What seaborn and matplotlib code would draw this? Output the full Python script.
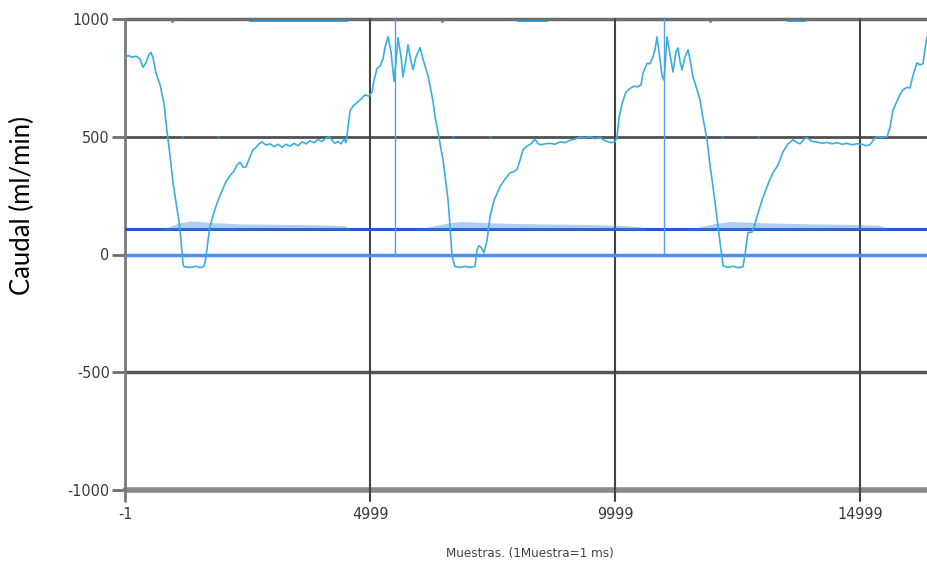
import numpy as np
import pandas as pd
import matplotlib
matplotlib.use("Agg")
import matplotlib.pyplot as plt
import seaborn as sns

# --- datos ---
muestras = [0, 61, 143, 224, 306, 367, 428, 490, 530, 571, 632, 714, 796, 857, 918, 979,
            1040, 1102, 1142, 1183, 1204, 1326, 1448, 1530, 1612, 1652, 1693, 1734, 1816,
            1897, 1979, 2060, 2142, 2224, 2285, 2346, 2407, 2468, 2550, 2611, 2672, 2734,
            2795, 2876, 2958, 3040, 3121, 3203, 3284, 3366, 3448, 3529, 3611, 3692, 3774,
            3856, 3937, 4019, 4100, 4162, 4223, 4284, 4345, 4406, 4468, 4508, 4549, 4590,
            4651, 4733, 4814, 4896, 4978, 5039, 5080, 5141, 5202, 5263, 5304, 5365, 5426,
            5488, 5528, 5569, 5630, 5671, 5732, 5773, 5834, 5875, 5936, 6018, 6079, 6120,
            6181, 6222, 6283, 6324, 6385, 6426, 6487, 6548, 6589, 6630, 6671, 6732, 6834,
            6936, 7038, 7140, 7181, 7222, 7262, 7324, 7385, 7446, 7528, 7650, 7752, 7854,
            7936, 7997, 8058, 8119, 8201, 8282, 8364, 8425, 8486, 8568, 8670, 8772, 8874,
            8976, 9078, 9180, 9282, 9384, 9486, 9588, 9690, 9772, 9833, 9914, 9996, 10037,
            10078, 10139, 10220, 10302, 10384, 10445, 10526, 10567, 10649, 10710, 10771,
            10812, 10853, 10894, 10955, 10996, 11057, 11118, 11179, 11240, 11281, 11322,
            11363, 11424, 11485, 11526, 11587, 11669, 11730, 11791, 11873, 11934, 11995,
            12056, 12097, 12158, 12199, 12301, 12403, 12505, 12607, 12648, 12709, 12791,
            12852, 12893, 12995, 13097, 13158, 13219, 13321, 13423, 13525, 13627, 13709,
            13770, 13852, 13913, 14015, 14117, 14219, 14321, 14423, 14525, 14627, 14729,
            14831, 14933, 15035, 15116, 15198, 15280, 15341, 15443, 15545, 15606, 15667,
            15749, 15810, 15871, 15953, 16014, 16075, 16157, 16218, 16279, 16320, 16361]
caudal = [835, 845, 838, 842, 830, 795, 815, 850, 858, 835, 770, 720, 640, 520, 420, 305,
          220, 140, 60, -40, -52, -55, -50, -56, -50, -10, 60, 120, 180,
          230, 270, 310, 335, 355, 380, 392, 370, 372, 415, 445, 455, 470,
          478, 465, 470, 458, 468, 455, 468, 460, 472, 462, 478, 470, 482,
          475, 488, 480, 495, 500, 485, 472, 480, 470, 490, 475, 540, 610,
          630, 645, 660, 678, 672, 690, 740, 790, 800, 830, 880, 925, 860,
          735, 820, 920, 840, 755, 830, 890, 820, 785, 840, 878, 830, 800,
          760, 715, 650, 585, 520, 470, 403, 300, 233, 120, -8, -51, -55,
          -50, -55, -50, 20, 38, 30, 8, 60, 160, 230, 288, 320, 347,
          352, 362, 400, 445, 460, 470, 490, 470, 466, 470, 472, 468, 478,
          475, 485, 490, 498, 495, 500, 492, 497, 485, 480, 475, 478, 500,
          580, 640, 690, 705, 715, 712, 720, 770, 812, 810, 840,
          870, 924, 860, 760, 740, 924, 850, 775, 860, 877, 820,
          784, 840, 869, 830, 754, 700, 657, 580, 487, 380, 288,
          190, 119, 20, -48, -55, -50, -56, -52, 0, 93, 95,
          130, 161, 230, 288, 320, 347, 380, 436, 470, 487, 475,
          470, 490, 496, 480, 478, 472, 476, 470, 475, 468, 472,
          466, 470, 468, 462, 466, 490, 500, 498, 500, 540, 614,
          650, 680, 699, 710, 707, 760, 814, 805, 810, 870, 924]

nivel_base = 108
banda_x = [[714, 918, 1122, 1326, 1530, 1836, 2346, 3162, 3978, 4488, 4590],
           [5916, 6222, 6528, 6834, 7140, 7650, 8466, 9282, 10098, 10506, 10608],
           [11424, 11730, 12036, 12342, 12648, 13158, 13974, 14790, 15402, 15565]]
banda_sup = [[106, 120, 135, 142, 140, 135, 130, 128, 126, 122, 108],
             [106, 118, 132, 140, 138, 133, 130, 128, 124, 118, 108],
             [106, 118, 132, 140, 138, 134, 130, 128, 124, 108]]

marcas_x = [5508, 10996]
tramos_sup = [(2550, 4530), (8017, 8609), (13525, 13872)]
puntos_x = [959, 6467, 11934, 1163, 1897, 6691, 7446, 12178, 12913]
puntos_y = [992, 992, 992, 500, 500, 500, 500, 500, 500]

xticks = [-1, 4999, 9999, 14999]
yticks = [-1000, -500, 0, 500, 1000]
x_max = 16361

sns.set_style("white")
plt.rcParams['font.family'] = ['DejaVu Sans']
plt.rcParams['font.stretch'] = 'condensed'

fig = plt.figure(figsize=(9.27, 5.67), dpi=100)
ax = fig.add_axes([125 / 927, 77 / 567, 802 / 927, 471 / 567])

# rejilla
ax.axhline(1000, color='#6e6e6e', lw=2.5, clip_on=False, zorder=1)
ax.axhline(500, color='#505050', lw=2, zorder=1)
ax.axhline(-500, color='#555555', lw=2.5, zorder=1)
ax.axhline(-1000, color='#8a8a8a', lw=4, clip_on=False, zorder=1)
for xt in xticks[1:]:
    ax.plot([xt, xt], [-1045, 1000], color='#444444', lw=1.5, clip_on=False, zorder=1)
ax.plot([-1, -1], [-1045, 1000], color='#7a7a7a', lw=2, clip_on=False, zorder=1)

# linea de cero y linea base
ax.axhline(0, color='#4d8ff0', lw=2.5, zorder=3)
ax.axhline(nivel_base, color='#1d5bd6', lw=2.2, zorder=3)
for bx, by in zip(banda_x, banda_sup):
    ax.fill_between(bx, nivel_base - 3, by, color='#3f7fe0', alpha=0.4, lw=0, zorder=3)

for mx in marcas_x:
    ax.plot([mx, mx], [0, 1000], color='#5a9cf0', lw=1, zorder=3)
for a, b in tramos_sup:
    ax.plot([a, b], [993, 993], color='#2a8fd8', lw=1.5, alpha=0.85, zorder=4)
ax.scatter(puntos_x, puntos_y, s=5, color='#2a8fd8', alpha=0.8, lw=0, zorder=4)

df = pd.DataFrame({'Muestras': muestras, 'Caudal': caudal})
sns.lineplot(data=df, x='Muestras', y='Caudal', ax=ax, color='#3aaee0', lw=1.2,
             estimator=None, sort=False, zorder=5)

ax.set_xlim(-1, x_max)
ax.set_ylim(-1000, 1000)
ax.set_xticks(xticks)
ax.set_yticks(yticks)
ax.set_xticklabels([str(v) for v in xticks])
ax.set_yticklabels([str(v) for v in yticks])
for s in ax.spines.values():
    s.set_visible(False)
ax.tick_params(axis='y', length=9.5, width=2, color='#6e6e6e', pad=1.5,
               labelsize=11.5, labelcolor='#3a3a3a', left=True)
ax.tick_params(axis='x', length=0, pad=12, labelsize=11.5, labelcolor='#3a3a3a',
               bottom=True)

ax.set_xlabel('Muestras. (1Muestra=1 ms)', fontsize=9.5, color='#444444')
ax.xaxis.set_label_coords(0.505, -0.134)
ax.xaxis.label.set_va('center')
ax.set_ylabel('Caudal (ml/min)', fontsize=18.5, color='black',
              family=['Lato', 'DejaVu Sans'], fontstretch='normal')
ax.yaxis.set_label_coords(-0.128, 0.603)
ax.yaxis.label.set_va('center')

fig.savefig('out.png', dpi=100)
